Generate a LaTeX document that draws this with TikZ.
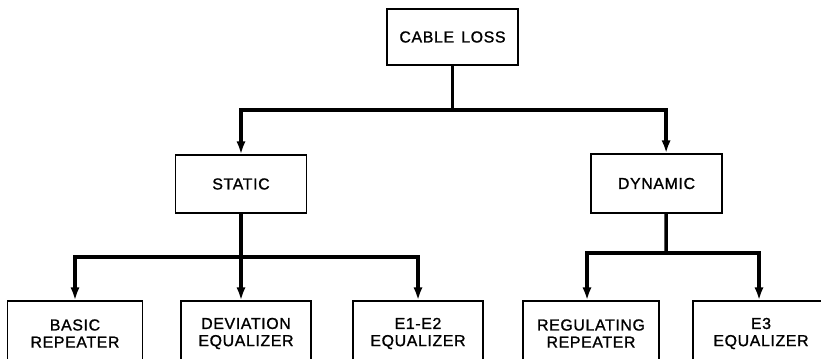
\documentclass[tikz,border=0pt]{standalone}
\usepackage{fontspec}
\setmainfont{Liberation Sans}
\newfontfamily\labelfont[LetterSpace=4, FakeBold=1.2]{Liberation Sans}
\usetikzlibrary{arrows.meta}

\begin{document}
\begin{tikzpicture}[x=0.025cm, y=-0.025cm,
  box/.style={draw, black, line width=1.1pt, align=center, font=\labelfont\fontsize{11.3}{12.2}\selectfont},
  feed/.style={black, line width=2.5pt, -{Latex[length=3.2mm,width=2.3mm]}},
  bus/.style={black, line width=2.5pt}]
\useasboundingbox (0,0) rectangle (821,359);
\clip (0,0) rectangle (821,359);

\node [box, minimum width=3.275cm, minimum height=1.4cm] (cable) at (452.5,37) {CABLE\hspace{0.45em}LOSS};
\node [box, minimum width=3.275cm, minimum height=1.45cm] (static) at (241,184) {STATIC};
\node [box, minimum width=3.275cm, minimum height=1.475cm] (dyn) at (656.5,183.5) {DYNAMIC};

\node [box, minimum width=3.375cm, minimum height=1.625cm] (basic) at (75,333.5) {BASIC\\REPEATER};
\node [box, minimum width=3.25cm, minimum height=1.625cm] (devi) at (246,333.5) {DEVIATION\\EQUALIZER};
\node [box, minimum width=3.25cm, minimum height=1.625cm] (eonetwo) at (418,333.5) {E1-E2\\EQUALIZER};
\node [box, minimum width=3.4cm, minimum height=1.625cm] (regul) at (591,333.5) {REGULATING\\REPEATER};
\node [box, minimum width=3.4cm, minimum height=1.625cm] (ethree) at (761,333.5) {E3\\EQUALIZER};

\coordinate (splitA) at (452.5,110);
\coordinate (splitB) at (241,257);
\coordinate (splitC) at (666,253);

\draw [bus] (cable.south) -- (splitA);
\draw [feed] (splitA) -| (static.north);
\draw [feed] (splitA) -| ([xshift=0.24cm]dyn.north);

\draw [bus] (static.south) -- (splitB);
\draw [feed] (splitB) -| (basic.north);
\draw [feed] (splitB) -- (devi.north -| splitB);
\draw [feed] (splitB) -| (eonetwo.north);

\draw [bus] ([xshift=0.24cm]dyn.south) -- (splitC);
\draw [feed] (splitC) -| ([xshift=-0.1cm]regul.north);
\draw [feed] (splitC) -| ([xshift=-0.05cm]ethree.north);
\end{tikzpicture}
\end{document}
